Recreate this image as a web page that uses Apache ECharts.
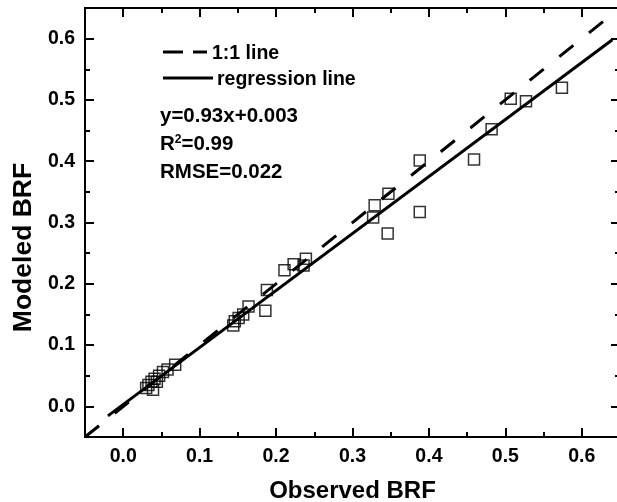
<!DOCTYPE html>
<html>
<head>
<meta charset="utf-8">
<script src="https://cdn.jsdelivr.net/npm/echarts@6/dist/echarts.min.js"></script>
<style>
html,body{margin:0;padding:0;background:#fff;}
#chart{width:617px;height:502px;}
</style>
</head>
<body>
<div id="chart"></div>
<script>
// ---- data ----
const observed = [0.030,0.033,0.037,0.039,0.041,0.044,0.047,0.052,0.058,0.068,
                  0.144,0.146,0.151,0.157,0.164,0.186,0.188,
                  0.211,0.223,0.236,0.239,
                  0.327,0.329,0.346,0.347,0.388,0.388,
                  0.459,0.482,0.507,0.527,0.574];
const modeled  = [0.030,0.035,0.040,0.027,0.045,0.040,0.050,0.056,0.060,0.068,
                  0.132,0.139,0.144,0.150,0.163,0.156,0.190,
                  0.222,0.232,0.230,0.241,
                  0.308,0.328,0.282,0.347,0.317,0.401,
                  0.403,0.452,0.502,0.498,0.520];
const oneToOneX = [-0.05, 0.65];
const oneToOneY = [-0.05, 0.65];
const regressionX = [-0.02, 0.64];
const regressionY = [-0.0156, 0.5982];
const xMajorTicks = [0.0,0.1,0.2,0.3,0.4,0.5,0.6];
const xMinorTicks = [0.05,0.15,0.25,0.35,0.45,0.55];
const yMajorTicks = [0.0,0.1,0.2,0.3,0.4,0.5,0.6];
const yMinorTicks = [0.05,0.15,0.25,0.35,0.45,0.55];
const axisMin = -0.05, axisMax = 0.65;
const legendNames = ['1:1 line', 'regression line'];
const statsLines = ['y=0.93x+0.003', 'R{sup|2}=0.99', 'RMSE=0.022'];

const FONT = "'Liberation Sans', Arial, sans-serif";
const chart = echarts.init(document.getElementById('chart'), null, {renderer:'canvas'});

function makeAxis(position, ticks, len, opts) {
  return Object.assign({
    type: 'value', position: position, min: axisMin, max: axisMax,
    axisLine: {show: true, onZero: false, lineStyle: {color: '#000', width: 2}},
    axisTick: {show: true, inside: true, length: len, customValues: ticks,
               lineStyle: {color: '#000', width: 2}},
    axisLabel: {show: false},
    splitLine: {show: false},
    minorTick: {show: false}
  }, opts || {});
}

const labelStyle = {fontFamily: FONT, fontSize: 19.5, fontWeight: 'bold', color: '#000'};

const xAxes = [
  makeAxis('bottom', xMajorTicks, 9, {
    axisLabel: Object.assign({show: true, customValues: xMajorTicks, margin: 10,
      formatter: v => Number(v).toFixed(1)}, labelStyle),
    name: 'Observed BRF', nameLocation: 'middle', nameGap: 42,
    nameTextStyle: {fontFamily: FONT, fontSize: 24, fontWeight: 'bold', color: '#000'}
  }),
  makeAxis('bottom', xMinorTicks, 5),
  makeAxis('top', xMajorTicks, 9),
  makeAxis('top', xMinorTicks, 5)
];
const yAxes = [
  makeAxis('left', yMajorTicks, 9, {
    axisLabel: Object.assign({show: true, customValues: yMajorTicks, margin: 10,
      formatter: v => Number(v).toFixed(1)}, labelStyle),
    name: 'Modeled BRF', nameLocation: 'middle', nameGap: 45,
    nameTextStyle: {fontFamily: FONT, fontSize: 26.5, fontWeight: 'bold', color: '#000',
                    padding: [0, 50, 0, 0]}
  }),
  makeAxis('left', yMinorTicks, 5),
  makeAxis('right', yMajorTicks, 9),
  makeAxis('right', yMinorTicks, 5)
];

const scatterData = observed.map((x, i) => [x, modeled[i]]);
const oneToOneData = oneToOneX.map((x, i) => [x, oneToOneY[i]]);
const regressionData = regressionX.map((x, i) => [x, regressionY[i]]);

// legend drawn as graphic (line samples + text)
const legendGraphic = [
  {type: 'line', silent: true, shape: {x1: 163, y1: 52, x2: 207, y2: 52},
   style: {stroke: '#000', lineWidth: 3, lineDash: [20, 10]}},
  {type: 'text', silent: true, x: 212, y: 54,
   style: {text: legendNames[0], verticalAlign: 'middle', fill: '#000',
           fontFamily: FONT, fontSize: 19.5, fontWeight: 'bold'}},
  {type: 'line', silent: true, shape: {x1: 163, y1: 78, x2: 213, y2: 78},
   style: {stroke: '#000', lineWidth: 3}},
  {type: 'text', silent: true, x: 217, y: 80,
   style: {text: legendNames[1], verticalAlign: 'middle', fill: '#000',
           fontFamily: FONT, fontSize: 19.5, fontWeight: 'bold'}}
];
const statsGraphic = statsLines.map((t, i) => ({
  type: 'text', x: 160, y: 116 + i * 28, silent: true,
  style: {
    text: t, verticalAlign: 'middle', fill: '#000',
    fontFamily: FONT, fontSize: 20.5, fontWeight: 'bold',
    rich: {sup: {fontFamily: FONT, fontSize: 12, fontWeight: 'bold', fill: '#000',
                 verticalAlign: 'top', lineHeight: 20}}
  }
}));

chart.setOption({
  animation: false,
  backgroundColor: '#fff',
  grid: {left: 85, top: 8, width: 535, height: 429, containLabel: false,
         outerBoundsMode: 'none'},
  xAxis: xAxes,
  yAxis: yAxes,
  graphic: legendGraphic.concat(statsGraphic),
  series: [
    {
      name: 'data', type: 'scatter', data: scatterData,
      symbol: 'rect', symbolSize: 11,
      itemStyle: {color: 'rgba(0,0,0,0)', borderColor: '#000', borderWidth: 1.5},
      emphasis: {disabled: true}, z: 3
    },
    {
      name: legendNames[0], type: 'line', data: oneToOneData, symbol: 'none',
      lineStyle: {color: '#000', width: 3, type: [18, 20]},
      emphasis: {disabled: true}, z: 2
    },
    {
      name: legendNames[1], type: 'line', data: regressionData, symbol: 'none',
      lineStyle: {color: '#000', width: 3, type: 'solid'},
      emphasis: {disabled: true}, z: 2
    }
  ]
});
</script>
</body>
</html>
